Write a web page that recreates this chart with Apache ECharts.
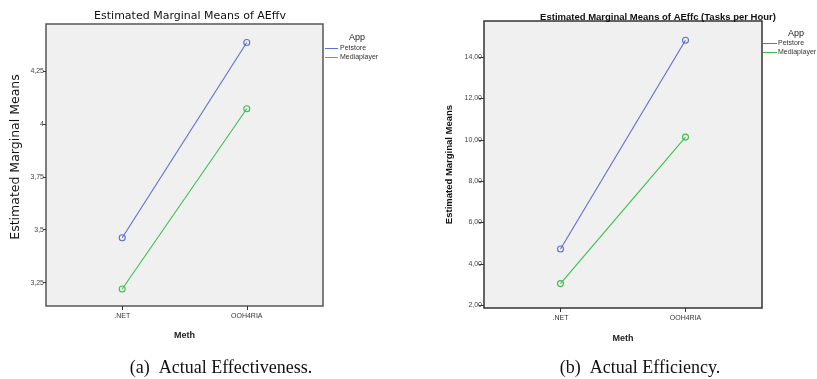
<!DOCTYPE html>
<html><head><meta charset="utf-8">
<script src="https://cdn.jsdelivr.net/npm/echarts@6/dist/echarts.min.js"></script>
<style>html,body{margin:0;padding:0;background:#fff}#c{width:817px;height:379px}</style>
</head><body><div id="c"></div>
<script>
var categories = ['.NET', 'OOH4RIA'];
var appNames = ['Petstore', 'Mediaplayer'];
// (a) Actual Effectiveness
var effvPetstore = [3.462, 4.384];
var effvMediaplayer = [3.220, 4.071];
var effvTicks = [3.25, 3.5, 3.75, 4, 4.25];
var effvTickLabels = ['3,25', '3,5', '3,75', '4', '4,25'];
// (b) Actual Efficiency
var effcPetstore = [4.72, 14.81];
var effcMediaplayer = [3.05, 10.13];
var effcTicks = [2, 4, 6, 8, 10, 12, 14];
var effcTickLabels = ['2,00', '4,00', '6,00', '8,00', '10,00', '12,00', '14,00'];

var colors = ['#5b6fd0', '#3cc04c'];
function pts(arr){ return arr.map(function(v,i){ return [i, v]; }); }

var chart = echarts.init(document.getElementById('c'));
var sans = 'DejaVu Sans';
var arial = 'Liberation Sans';

function xAxis(gi){
  return {
    type: 'value', gridIndex: gi, min: -0.612, max: 1.612,
    name: 'Meth', nameLocation: 'middle', nameGap: gi===0 ? 25 : 26,
    nameTextStyle: {fontFamily: arial, fontWeight: 'bold', fontSize: 9, color: '#222'},
    axisLine: {show: false, onZero: false},
    splitLine: {show: false},
    axisTick: {show: true, length: 4, customValues: [0, 1], lineStyle: {color: '#333'}},
    axisLabel: {customValues: [0, 1], margin: 7, fontSize: 7, fontFamily: arial, color: '#333',
      formatter: function(v){ return categories[Math.round(v)]; }}
  };
}
function yAxis(gi, mn, mx, ticks, labels, nameStyle, gap){
  return {
    type: 'value', gridIndex: gi, min: mn, max: mx,
    name: 'Estimated Marginal Means', nameLocation: 'middle', nameGap: gap,
    nameTextStyle: nameStyle,
    axisLine: {show: false, onZero: false},
    splitLine: {show: false},
    axisTick: {show: true, length: gi===0 ? 3 : 5, customValues: ticks, lineStyle: {color: '#333'}},
    axisLabel: {customValues: ticks, margin: 2, fontSize: 7, fontFamily: arial, color: '#444',
      formatter: function(v){ var i = ticks.indexOf(+v.toFixed(4)); return i>=0 ? labels[i] : ''; }}
  };
}
function line(name, data, ci, gi){
  return {
    type: 'line', name: name, xAxisIndex: gi, yAxisIndex: gi, data: pts(data),
    symbol: 'circle', symbolSize: 6, showSymbol: true,
    lineStyle: {width: 1.1, color: colors[ci]},
    itemStyle: {color: 'rgba(0,0,0,0)', borderColor: colors[ci], borderWidth: 1.1},
    animation: false
  };
}
function legendData(){
  return appNames.map(function(n, i){
    return {name: n, itemStyle: {color: colors[i], borderWidth: 0}};
  });
}

chart.setOption({
  animation: false,
  color: colors,
  title: [
    {text: 'Estimated Marginal Means of AEffv', left: 185, top: 6, textAlign: 'center',
     textStyle: {fontFamily: sans, fontWeight: 'normal', fontSize: 11, color: '#111'}},
    {text: 'Estimated Marginal Means of AEffc (Tasks per Hour)', left: 653, top: 7, textAlign: 'center',
     textStyle: {fontFamily: arial, fontWeight: 'bold', fontSize: 9.5, color: '#111'}},
    {text: 'App', left: 352, top: 28, textAlign: 'center',
     textStyle: {fontFamily: arial, fontWeight: 'normal', fontSize: 9, color: '#222'}},
    {text: 'App', left: 791, top: 24, textAlign: 'center',
     textStyle: {fontFamily: arial, fontWeight: 'normal', fontSize: 9, color: '#222'}},
    {text: '(a)  Actual Effectiveness.', left: 216, top: 354, textAlign: 'center',
     textStyle: {fontFamily: 'Liberation Serif', fontWeight: 'normal', fontSize: 18, color: '#111'}},
    {text: '(b)  Actual Efficiency.', left: 635, top: 354, textAlign: 'center',
     textStyle: {fontFamily: 'Liberation Serif', fontWeight: 'normal', fontSize: 18, color: '#111'}}
  ],
  legend: [
    {data: legendData(), orient: 'vertical', left: 325, top: 45, icon: 'rect', itemWidth: 13, itemHeight: 1,
     itemGap: 2, textStyle: {fontFamily: arial, fontSize: 7, color: '#333', padding: [0,0,0,-3]}, padding: 0},
    {data: legendData(), orient: 'vertical', left: 763, top: 40, icon: 'rect', itemWidth: 14, itemHeight: 1,
     itemGap: 2, textStyle: {fontFamily: arial, fontSize: 7, color: '#333', padding: [0,0,0,-4]}, padding: 0}
  ],
  grid: [
    {left: 46, top: 24, width: 277, height: 282, show: true, backgroundColor: '#f0f0f0', borderColor: '#555', borderWidth: 1.5},
    {left: 484, top: 21, width: 278, height: 287, show: true, backgroundColor: '#f0f0f0', borderColor: '#333', borderWidth: 1.5}
  ],
  xAxis: [xAxis(0), xAxis(1)],
  yAxis: [
    yAxis(0, 3.140, 4.471, effvTicks, effvTickLabels, {fontFamily: sans, fontWeight: 'normal', fontSize: 12.5, color: '#111', padding: [0, 0, 0, 16]}, 24),
    yAxis(1, 1.87, 15.74, effcTicks, effcTickLabels, {fontFamily: arial, fontWeight: 'bold', fontSize: 9.5, color: '#111'}, 30)
  ],
  series: [
    line('Petstore', effvPetstore, 0, 0),
    line('Mediaplayer', effvMediaplayer, 1, 0),
    line('Petstore', effcPetstore, 0, 1),
    line('Mediaplayer', effcMediaplayer, 1, 1)
  ]
});
</script></body></html>
